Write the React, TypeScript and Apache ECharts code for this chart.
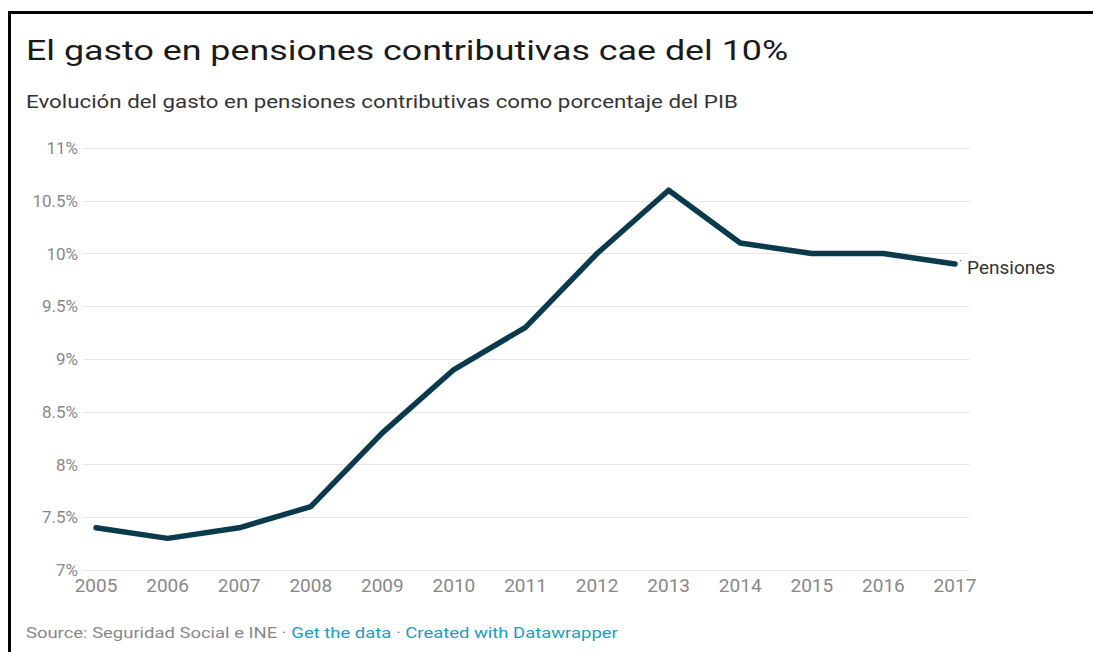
import React, { useEffect, useRef } from "react";
import * as echarts from "echarts";

const years = [2005, 2006, 2007, 2008, 2009, 2010, 2011, 2012, 2013, 2014, 2015, 2016, 2017];
const pensiones = [7.4, 7.3, 7.4, 7.6, 8.3, 8.9, 9.3, 10.0, 10.6, 10.1, 10.0, 10.0, 9.9];
const seriesName = "Pensiones";
const titleText = "El gasto en pensiones contributivas cae del 10%";
const subtitleText = "Evolución del gasto en pensiones contributivas como porcentaje del PIB";

export default function App() {
  const ref = useRef<HTMLDivElement>(null);
  useEffect(() => {
    if (!ref.current) return;
    const chart = echarts.init(ref.current, undefined, { renderer: "svg" });
    const font = "Roboto, 'Noto Sans', sans-serif";
    chart.setOption({
      animation: false,
      textStyle: { fontFamily: font },
      grid: { left: 83, right: 123, top: 148, bottom: 82, containLabel: false },
      xAxis: {
        type: "value",
        min: 2004.818,
        max: 2017.21,
        axisLine: { show: false },
        axisTick: { show: false },
        splitLine: { show: false },
        axisLabel: {
          customValues: years,
          formatter: (v: number) => String(Math.round(v)),
          color: "#888",
          fontSize: 19,
          margin: 6,
          fontFamily: font,
        },
      },
      yAxis: {
        type: "value",
        min: 7,
        max: 11,
        interval: 0.5,
        axisLine: { show: false },
        axisTick: { show: false },
        splitLine: { show: true, lineStyle: { color: "#e6e6e6", width: 1 } },
        axisLabel: {
          formatter: (v: number) => v + "%",
          color: "#888",
          fontSize: 17,
          margin: 5,
          fontFamily: font,
        },
      },
      series: [
        {
          name: seriesName,
          type: "line",
          data: years.map((y, i) => [y, pensiones[i]]),
          showSymbol: false,
          lineStyle: { color: "#0b3a4d", width: 5.5, cap: "round", join: "round" },
          itemStyle: { color: "#0b3a4d" },
          endLabel: {
            show: true,
            formatter: "{d|·} {n|" + seriesName + "}",
            distance: 4,
            rich: {
              d: { color: "#555", fontSize: 12, fontFamily: font, padding: [0, 2, 6, 0] },
              n: { color: "#333", fontSize: 19, fontFamily: font, padding: [6, 0, 0, 0] },
            },
          },
        },
      ],
      graphic: [
        {
          type: "text",
          x: 26,
          y: 36,
          scaleX: 1.28,
          style: { text: titleText, font: `400 28px ${font}`, fill: "#1a1a1a", verticalAlign: "top" },
        },
        {
          type: "text",
          x: 26,
          y: 93,
          scaleX: 1.24,
          style: { text: subtitleText, font: `400 18px ${font}`, fill: "#333", verticalAlign: "top" },
        },
        {
          type: "text",
          x: 26,
          y: 625,
          scaleX: 1.23,
          style: {
            text: "{g|Source: Seguridad Social e INE · }{b|Get the data}{g| · }{b|Created with Datawrapper}",
            verticalAlign: "top",
            rich: {
              g: { fill: "#888", font: `400 15px ${font}` },
              b: { fill: "#1d9bc0", font: `400 15px ${font}` },
            },
          },
        },
      ],
    });
    return () => chart.dispose();
  }, []);
  return (
    <div style={{ position: "absolute", left: 0, top: 0, width: 1093, height: 652, background: "#fff", overflow: "hidden" }}>
      <div
        style={{
          position: "absolute",
          left: 8,
          top: 11,
          width: 1085,
          height: 641,
          borderTop: "3px solid #000",
          borderLeft: "3px solid #000",
          boxSizing: "border-box",
        }}
      />
      <div ref={ref} style={{ position: "absolute", left: 0, top: 0, width: 1093, height: 652 }} />
    </div>
  );
}
